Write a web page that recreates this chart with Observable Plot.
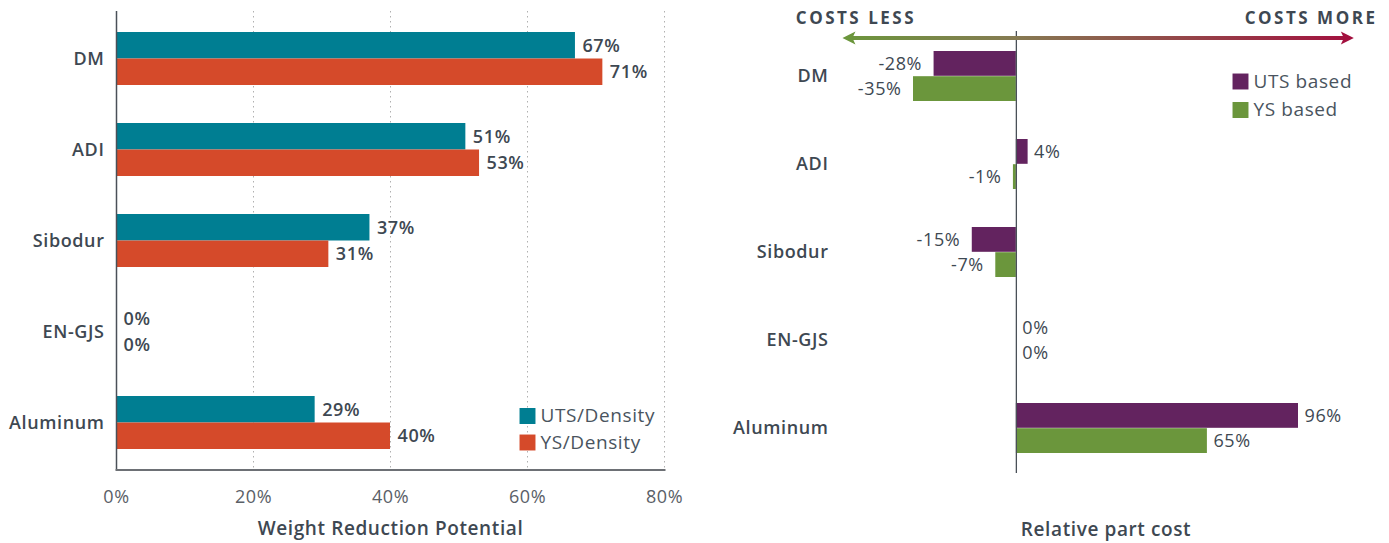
<!DOCTYPE html>
<html><head><meta charset="utf-8">
<script src="https://cdn.jsdelivr.net/npm/d3@7"></script>
<script src="https://cdn.jsdelivr.net/npm/@observablehq/plot@0.6"></script>
<style>
html,body{margin:0;padding:0;background:#fff;}
#wrap{position:relative;width:1389px;height:543px;overflow:hidden;}
#left{position:absolute;left:0;top:0;}
#right{position:absolute;left:700px;top:0;}
#wrap svg text{letter-spacing:0.6px;}
</style></head><body><div id="wrap"><div id="left"></div><div id="right"></div></div>
<script>
// ---- data ----
const categories = ["DM", "ADI", "Sibodur", "EN-GJS", "Aluminum"];
const utsDensity = [67, 51, 37, 0, 29];
const ysDensity = [71, 53, 31, 0, 40];
const utsCost = [-28, 4, -15, 0, 96];
const ysCost = [-35, -1, -7, 0, 65];
const weightTicks = [0, 20, 40, 60, 80];
const weightTitle = "Weight Reduction Potential";
const costTitle = "Relative part cost";
const leftSeries = ["UTS/Density", "YS/Density"];
const rightSeries = ["UTS based", "YS based"];
const costDirections = [{label: "COSTS LESS", at: -35}, {label: "COSTS MORE", at: 122}];
const arrowSpan = [-59, 115];

// ---- styles ----
const FONT = "'Open Sans', sans-serif";
const TEXT = "#3e4852";
const TICK = "#5a6067";
const LEG = "#4a545e";
const C = {teal: "#007e92", red: "#d54a2a", purple: "#63235f", green: "#6b963c", crimson: "#a3103f"};

// ---- left panel ----
const rowsL = categories.map((c, i) => ({cat: c, uts: utsDensity[i], ys: ysDensity[i]}));
const LH = 543, LMT = 11, LMB = 73.5, padL = 0.422;
const halfL = (LH - LMT - LMB) / categories.length * (1 - padL) / 2;

const left = Plot.plot({
  width: 700, height: LH, marginLeft: 116, marginRight: 36, marginTop: LMT, marginBottom: LMB,
  style: {fontFamily: FONT, color: TEXT, background: "transparent", overflow: "visible"},
  x: {domain: [0, 80]},
  y: {domain: categories, paddingInner: padL, paddingOuter: padL / 2},
  marks: [
    Plot.gridX(weightTicks.slice(1), {stroke: "#b0b0b0", strokeOpacity: 1, strokeDasharray: "1.5,3.5"}),
    Plot.barX(rowsL, {y: "cat", x: "uts", fill: C.teal, insetBottom: halfL}),
    Plot.barX(rowsL, {y: "cat", x: "ys", fill: C.red, insetTop: halfL}),
    Plot.text(rowsL, {y: "cat", x: "uts", text: d => d.uts + "%", dx: 7, dy: -halfL / 2, textAnchor: "start", fontSize: 18, fontWeight: 600, fill: TEXT}),
    Plot.text(rowsL, {y: "cat", x: "ys", text: d => d.ys + "%", dx: 7, dy: halfL / 2, textAnchor: "start", fontSize: 18, fontWeight: 600, fill: TEXT}),
    Plot.ruleX([0], {stroke: "#4a5058", strokeWidth: 1.5}),
    Plot.frame({anchor: "bottom", stroke: "#6d7075", strokeWidth: 2}),
    Plot.axisY({tickSize: 0, tickPadding: 12, fontSize: 18, fontWeight: 600, label: null}),
    Plot.axisX({ticks: weightTicks, tickFormat: d => d + "%", tickSize: 0, tickPadding: 20, fontSize: 18, fontWeight: 400, label: null, color: TICK}),
    Plot.text([weightTitle], {frameAnchor: "bottom", lineAnchor: "middle", dy: 58.5, fontSize: 19, fontWeight: 600, fill: TEXT}),
    Plot.dot([leftSeries[0]], {frameAnchor: "bottom-right", dx: -137, dy: -54, symbol: "square", r: 9, fill: C.teal}),
    Plot.dot([leftSeries[1]], {frameAnchor: "bottom-right", dx: -137, dy: -27.5, symbol: "square", r: 9, fill: C.red}),
    Plot.text([leftSeries[0]], {frameAnchor: "bottom-right", lineAnchor: "middle", dx: -124, dy: -54, textAnchor: "start", fontSize: 19, fill: LEG}),
    Plot.text([leftSeries[1]], {frameAnchor: "bottom-right", lineAnchor: "middle", dx: -124, dy: -27.5, textAnchor: "start", fontSize: 19, fill: LEG})
  ]
});
document.getElementById("left").append(left);

// ---- right panel ----
const rowsR = categories.map((c, i) => ({cat: c, uts: utsCost[i], ys: ysCost[i]}));
const RH = 543, RMT = 31, RMB = 70, padR = 0.43;
const halfR = (RH - RMT - RMB) / categories.length * (1 - padR) / 2;

const arrowMark = (index, scales, values, dims) => {
  const g = d3.create("svg:g");
  const x1 = scales.x(arrowSpan[0]), x2 = scales.x(arrowSpan[1]);
  const y = dims.marginTop + 7;
  const grad = g.append("defs").append("linearGradient")
    .attr("id", "costGrad").attr("gradientUnits", "userSpaceOnUse")
    .attr("x1", x1).attr("x2", x2).attr("y1", 0).attr("y2", 0);
  grad.append("stop").attr("offset", 0).attr("stop-color", C.green);
  grad.append("stop").attr("offset", 0.34).attr("stop-color", "#867a52");
  grad.append("stop").attr("offset", 1).attr("stop-color", C.crimson);
  g.append("line").attr("x1", x1 + 8).attr("x2", x2 - 8).attr("y1", y).attr("y2", y)
    .attr("stroke", "url(#costGrad)").attr("stroke-width", 4);
  g.append("path").attr("d", `M${x1},${y}L${x1 + 13},${y - 6.5}L${x1 + 10},${y}L${x1 + 13},${y + 6.5}Z`).attr("fill", C.green);
  g.append("path").attr("d", `M${x2},${y}L${x2 - 13},${y - 6.5}L${x2 - 10},${y}L${x2 - 13},${y + 6.5}Z`).attr("fill", C.crimson);
  return g.node();
};

const right = Plot.plot({
  width: 689, height: RH, marginLeft: 213, marginRight: 91, marginTop: RMT, marginBottom: RMB,
  style: {fontFamily: FONT, color: TEXT, background: "transparent", overflow: "visible"},
  x: {domain: [-35, 96], axis: null},
  y: {domain: categories, paddingInner: padR, paddingOuter: padR / 2},
  marks: [
    Plot.barX(rowsR, {y: "cat", x: "uts", fill: C.purple, insetBottom: halfR}),
    Plot.barX(rowsR, {y: "cat", x: "ys", fill: C.green, insetTop: halfR}),
    Plot.text(rowsR.filter(d => d.uts >= 0), {y: "cat", x: "uts", text: d => d.uts + "%", dx: 6, dy: -halfR / 2, textAnchor: "start", fontSize: 18, fill: TEXT}),
    Plot.text(rowsR.filter(d => d.uts < 0), {y: "cat", x: "uts", text: d => d.uts + "%", dx: -12, dy: -halfR / 2, textAnchor: "end", fontSize: 18, fill: TEXT}),
    Plot.text(rowsR.filter(d => d.ys >= 0), {y: "cat", x: "ys", text: d => d.ys + "%", dx: 6, dy: halfR / 2, textAnchor: "start", fontSize: 18, fill: TEXT}),
    Plot.text(rowsR.filter(d => d.ys < 0), {y: "cat", x: "ys", text: d => d.ys + "%", dx: -12, dy: halfR / 2, textAnchor: "end", fontSize: 18, fill: TEXT}),
    Plot.ruleX([0], {stroke: "#4a5058", strokeWidth: 1.3}),
    arrowMark,
    Plot.text(costDirections, {x: "at", text: "label", frameAnchor: "top", lineAnchor: "middle", dy: -13, dx: 2.5, textAnchor: "end", fontSize: 17, fontWeight: 700, fill: TEXT}),
    Plot.axisY({tickSize: 0, tickPadding: 85, fontSize: 18, fontWeight: 600, label: null}),
    Plot.text([costTitle], {frameAnchor: "bottom", lineAnchor: "middle", dy: 56, fontSize: 19, fontWeight: 600, fill: TEXT}),
    Plot.dot([rightSeries[0]], {frameAnchor: "top-right", dx: -58, dy: 50, symbol: "square", r: 9, fill: C.purple}),
    Plot.dot([rightSeries[1]], {frameAnchor: "top-right", dx: -58, dy: 78.5, symbol: "square", r: 9, fill: C.green}),
    Plot.text([rightSeries[0]], {frameAnchor: "top-right", lineAnchor: "middle", dx: -45, dy: 50, textAnchor: "start", fontSize: 19, fill: LEG}),
    Plot.text([rightSeries[1]], {frameAnchor: "top-right", lineAnchor: "middle", dx: -45, dy: 78.5, textAnchor: "start", fontSize: 19, fill: LEG})
  ]
});
document.getElementById("right").append(right);
d3.select(right).selectAll("text")
  .filter(function () { return /^COSTS/.test(this.textContent); })
  .style("letter-spacing", "2.5px");
</script>
</body></html>
